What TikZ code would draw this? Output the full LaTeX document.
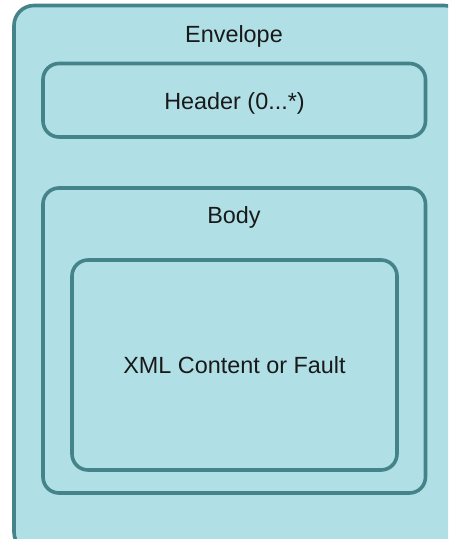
\documentclass[tikz,border=0pt]{standalone}
\usepackage{fontspec}
\setmainfont{Liberation Sans}
\definecolor{boxfill}{HTML}{B0E0E6}
\definecolor{boxline}{HTML}{45838A}
\begin{document}
\begin{tikzpicture}[x=1pt,y=-1pt,
  part/.style={draw=boxline,fill=boxfill,line width=3.6pt,rounded corners=16pt},
  caption/.style={font=\fontsize{23.4}{28}\selectfont,anchor=base,inner sep=0pt,text=black!90}]
\useasboundingbox (0,0) rectangle (448,539);
\clip (0,0) rectangle (448,539);
% outer envelope, running past the right and bottom edges
\draw[part,rounded corners=20pt] (14,5.5) rectangle (464,552);
\node[caption] (env) at (234,42.5) {Envelope};
% header block
\draw[part] (43,63.5) rectangle (425.5,137) node[midway] (hdrbox) {};
\node[caption] (hdr) at (234.5,109) {Header (0...*)};
% body block with its content
\draw[part] (43,188) rectangle (425.5,493) node[midway] (bodybox) {};
\node[caption] (body) at (234,223) {Body};
\draw[part] (72,260) rectangle (397,470) node[midway] (contbox) {};
\node[caption] (cont) at (234.5,373.5) {XML Content or Fault};
\end{tikzpicture}
\end{document}
